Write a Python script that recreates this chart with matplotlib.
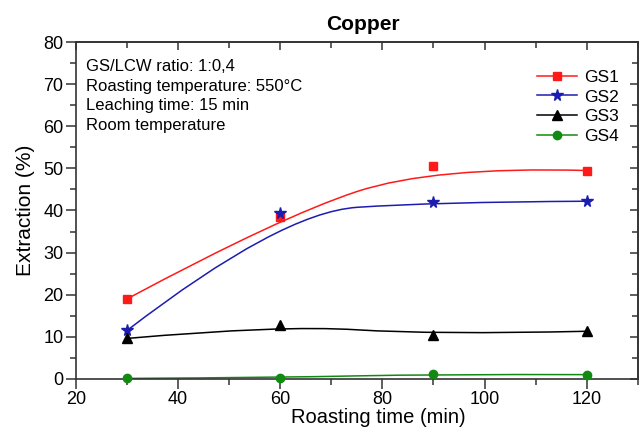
import matplotlib
matplotlib.use("Agg")
import matplotlib.pyplot as plt
from matplotlib.path import Path
from matplotlib.patches import PathPatch
from matplotlib.lines import Line2D
from matplotlib.ticker import MultipleLocator

plt.rcParams['font.family'] = ['Liberation Sans', 'DejaVu Sans']

roast_time = [30, 60, 90, 120]
gs1 = [19.0, 38.5, 50.5, 49.5]
gs2 = [11.5, 39.5, 42.0, 42.2]
gs3 = [9.6, 12.8, 10.5, 11.3]
gs4 = [0.1, 0.3, 1.1, 1.0]

series = [
    ("GS1", gs1, "#ff1a1a", "s", 5.5),
    ("GS2", gs2, "#1c1cb0", "*", 8.5),
    ("GS3", gs3, "black", "^", 6.5),
    ("GS4", gs4, "#128a12", "o", 6),
]

conditions = ("GS/LCW ratio: 1:0,4\n"
              "Roasting temperature: 550\u00b0C\n"
              "Leaching time: 15 min\n"
              "Room temperature")


def bspline_path(x, y):
    # quadratic B-spline: data points act as control points,
    # curve joins at midpoints between inner control points
    pts = [(x[0], y[0])]
    codes = [Path.MOVETO]
    for i in range(1, len(x) - 2):
        mid = ((x[i] + x[i + 1]) / 2, (y[i] + y[i + 1]) / 2)
        pts += [(x[i], y[i]), mid]
        codes += [Path.CURVE3, Path.CURVE3]
    pts += [(x[-2], y[-2]), (x[-1], y[-1])]
    codes += [Path.CURVE3, Path.CURVE3]
    return Path(pts, codes)


fig = plt.figure(figsize=(6.39, 4.30), dpi=100)
ax = fig.add_axes([0.119, 0.119, 0.879, 0.783])

handles = []
for name, vals, color, marker, ms in series:
    curve = PathPatch(bspline_path(roast_time, vals), facecolor="none",
                      edgecolor=color, lw=1.1, transform=ax.transData)
    ax.add_patch(curve)
    ax.plot(roast_time, vals, linestyle="none", marker=marker, ms=ms,
            color=color, mec=color, clip_on=False, zorder=3)
    handles.append(Line2D([], [], color=color, lw=1.1, marker=marker,
                          ms=ms, label=name))

ax.set_xlim(20, 130)
ax.set_ylim(0, 80)
ax.xaxis.set_major_locator(MultipleLocator(20))
ax.xaxis.set_minor_locator(MultipleLocator(10))
ax.yaxis.set_major_locator(MultipleLocator(10))
ax.yaxis.set_minor_locator(MultipleLocator(5))
ax.tick_params(which="major", direction="out", length=7, width=1.1,
               labelsize=13, color="#333333", pad=2)
ax.tick_params(which="minor", direction="out", length=4, width=1.1,
               color="#333333")
for sp in ax.spines.values():
    sp.set_linewidth(1.2)
    sp.set_color("#333333")

# mirrored ticks on top and right, pointing inwards
top = ax.secondary_xaxis("top")
right = ax.secondary_yaxis("right")
top.xaxis.set_major_locator(MultipleLocator(20))
top.xaxis.set_minor_locator(MultipleLocator(10))
right.yaxis.set_major_locator(MultipleLocator(10))
right.yaxis.set_minor_locator(MultipleLocator(5))
for sec in (top, right):
    sec.tick_params(which="major", direction="in", length=6, width=1.1,
                    color="#333333", labeltop=False, labelright=False)
    sec.tick_params(which="minor", direction="in", length=4, width=1.1,
                    color="#333333")
    for sp in sec.spines.values():
        sp.set_linewidth(1.2)
        sp.set_color("#333333")

ax.set_xlabel("Roasting time (min)", fontsize=14.5)
ax.xaxis.set_label_coords(0.539, -0.088)
ax.set_ylabel("Extraction (%)", fontsize=15, labelpad=6)
ax.set_title("Copper", fontsize=15, fontweight="bold", x=0.511, pad=9)

ax.text(0.018, 0.95, conditions, transform=ax.transAxes, fontsize=12,
        va="top", ha="left", linespacing=1.38)

ax.legend(handles=handles, loc="upper left", frameon=False, fontsize=12.5,
          handlelength=2.3, handletextpad=0.4, labelspacing=0.27,
          bbox_to_anchor=(0.793, 0.965))

fig.savefig("out.png", dpi=100)
